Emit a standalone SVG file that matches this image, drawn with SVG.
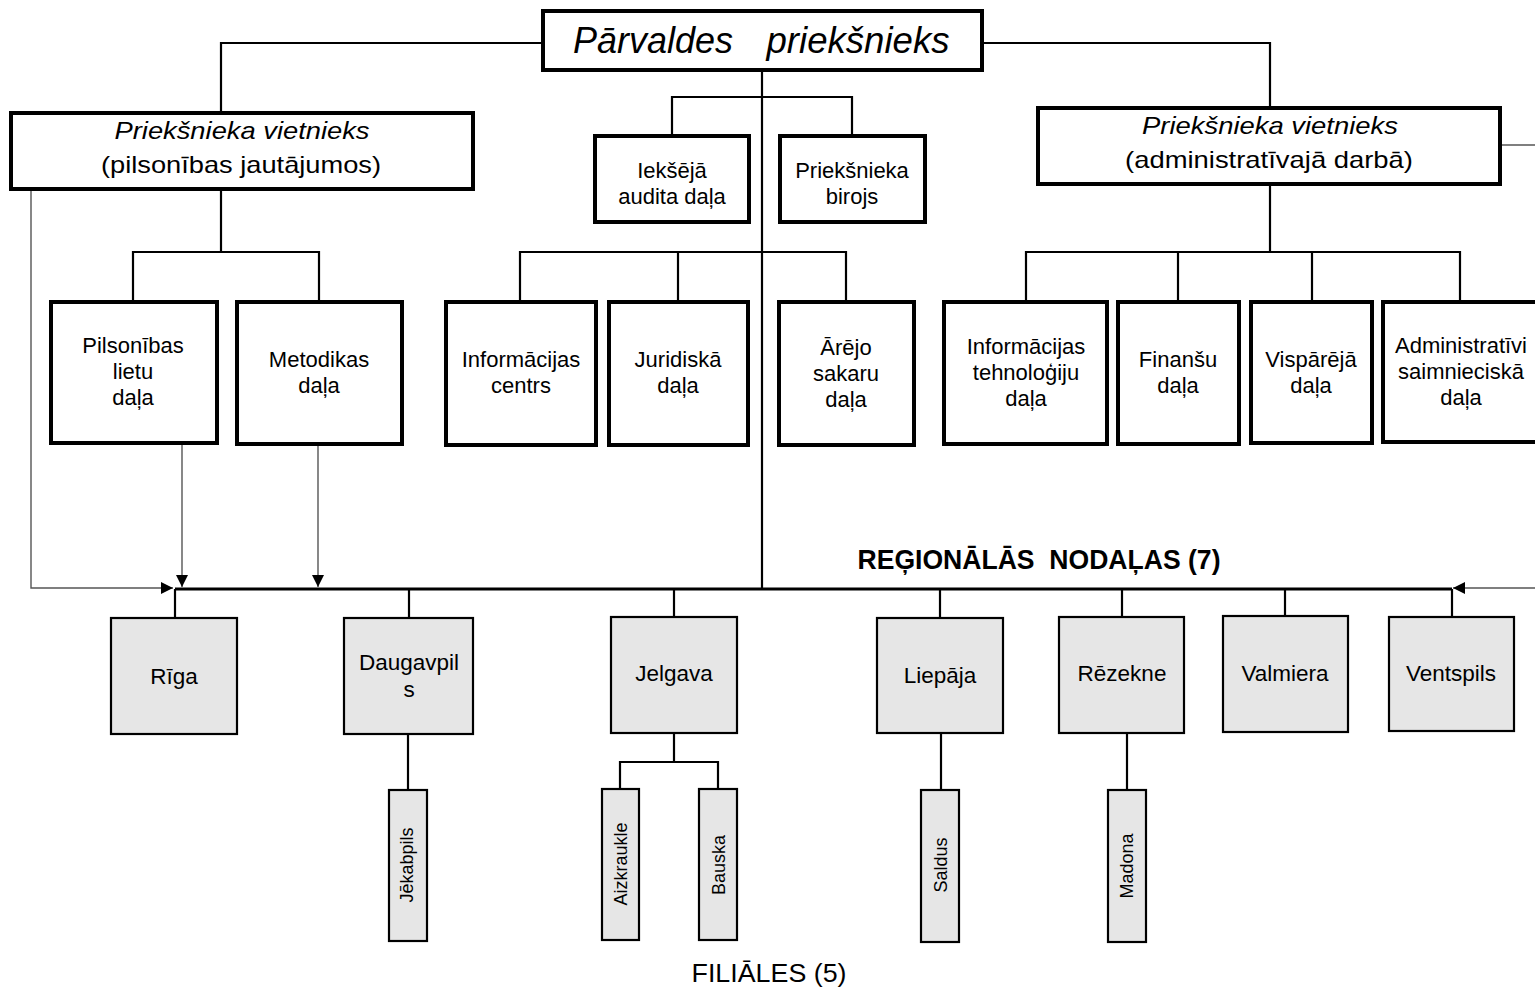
<svg xmlns="http://www.w3.org/2000/svg" width="1535" height="988" viewBox="0 0 1535 988">
<style>
.main{fill:#fff;stroke:#000;stroke-width:4}
.reg{fill:#e6e6e6;stroke:#000;stroke-width:2.2}
.ln{fill:none;stroke:#000;stroke-width:2.2}
.bus{fill:none;stroke:#000;stroke-width:2.8}
.gr{fill:none;stroke:#555;stroke-width:1.4}
text{font-family:"Liberation Sans",Arial,sans-serif;fill:#000;text-anchor:middle}
.t22{font-size:22px}
.t21{font-size:22.5px}
.it{font-style:italic}
.v{font-size:18px}
</style>
<defs>
<marker id="arb" viewBox="0 0 10 10" refX="10" refY="5" markerWidth="12" markerHeight="12" markerUnits="userSpaceOnUse" orient="auto">
<path d="M0,0 L10,5 L0,10 z" fill="#000"/>
</marker>
</defs>

<g id="connectors">
<polyline class="ln" points="543,43 221,43 221,112"/>
<polyline class="ln" points="982,43 1270,43 1270,107"/>
<line class="ln" x1="762" y1="70" x2="762" y2="589"/>
<polyline class="ln" points="672,135 672,97 852,97 852,135"/>
<line class="ln" x1="221" y1="189" x2="221" y2="252"/>
<polyline class="ln" points="133,301 133,252 319,252 319,301"/>
<polyline class="ln" points="520,301 520,252 846,252 846,301"/>
<line class="ln" x1="678" y1="252" x2="678" y2="301"/>
<line class="ln" x1="1270" y1="183" x2="1270" y2="252"/>
<polyline class="ln" points="1026,301 1026,252 1460,252 1460,301"/>
<line class="ln" x1="1178" y1="252" x2="1178" y2="301"/>
<line class="ln" x1="1312" y1="252" x2="1312" y2="301"/>
<line class="bus" x1="175" y1="589" x2="1452" y2="589"/>
<line class="ln" x1="175" y1="589" x2="175" y2="618"/>
<line class="ln" x1="409" y1="589" x2="409" y2="618"/>
<line class="ln" x1="674" y1="589" x2="674" y2="617"/>
<line class="ln" x1="940" y1="589" x2="940" y2="618"/>
<line class="ln" x1="1122" y1="589" x2="1122" y2="617"/>
<line class="ln" x1="1285" y1="589" x2="1285" y2="616"/>
<line class="ln" x1="1452" y1="589" x2="1452" y2="617"/>
<line class="ln" x1="408" y1="734" x2="408" y2="790"/>
<polyline class="ln" points="674,733 674,762 620,762 620,789"/>
<polyline class="ln" points="674,762 718,762 718,789"/>
<line class="ln" x1="941" y1="733" x2="941" y2="790"/>
<line class="ln" x1="1127" y1="733" x2="1127" y2="790"/>
<polyline class="gr" points="31,189 31,588 173,588" marker-end="url(#arb)"/>
<line class="gr" x1="182" y1="443" x2="182" y2="587" marker-end="url(#arb)"/>
<line class="gr" x1="318" y1="445" x2="318" y2="587" marker-end="url(#arb)"/>
<line class="gr" x1="1501" y1="145" x2="1540" y2="145"/>
<line class="gr" x1="1540" y1="588" x2="1453" y2="588" marker-end="url(#arb)"/>
</g>

<g id="n-parvaldes">
<rect class="main" x="543" y="11" width="439" height="59"/>
<text class="it" x="653" y="53" font-size="37" textLength="160" lengthAdjust="spacingAndGlyphs">Pārvaldes</text>
<text class="it" x="858" y="53" font-size="37" textLength="183" lengthAdjust="spacingAndGlyphs">priekšnieks</text>
</g>

<g id="n-vietn-pils">
<rect class="main" x="11" y="113" width="462" height="76"/>
<text class="it" x="242" y="139" font-size="24" textLength="255" lengthAdjust="spacingAndGlyphs">Priekšnieka vietnieks</text>
<text x="241" y="173" font-size="24" textLength="280" lengthAdjust="spacingAndGlyphs">(pilsonības jautājumos)</text>
</g>

<g id="n-vietn-adm">
<rect class="main" x="1038" y="108" width="462" height="76"/>
<text class="it" x="1270" y="134" font-size="24" textLength="256" lengthAdjust="spacingAndGlyphs">Priekšnieka vietnieks</text>
<text x="1269" y="168" font-size="24" textLength="288" lengthAdjust="spacingAndGlyphs">(administratīvajā darbā)</text>
</g>

<g id="n-audits">
<rect class="main" x="595" y="136" width="154" height="86"/>
<text class="t22" x="672" y="178">Iekšējā</text>
<text class="t22" x="672" y="204">audita daļa</text>
</g>

<g id="n-birojs">
<rect class="main" x="780" y="136" width="145" height="86"/>
<text class="t22" x="852" y="178">Priekšnieka</text>
<text class="t22" x="852" y="204">birojs</text>
</g>

<g id="n-pils-lietu">
<rect class="main" x="51" y="302" width="166" height="141"/>
<text class="t22" x="133" y="353">Pilsonības</text>
<text class="t22" x="133" y="379">lietu</text>
<text class="t22" x="133" y="405">daļa</text>
</g>

<g id="n-metodikas">
<rect class="main" x="237" y="302" width="165" height="142"/>
<text class="t22" x="319" y="367">Metodikas</text>
<text class="t22" x="319" y="393">daļa</text>
</g>

<g id="n-info-centrs">
<rect class="main" x="446" y="302" width="150" height="143"/>
<text class="t22" x="521" y="367">Informācijas</text>
<text class="t22" x="521" y="393">centrs</text>
</g>

<g id="n-juridiska">
<rect class="main" x="609" y="302" width="139" height="143"/>
<text class="t22" x="678" y="367">Juridiskā</text>
<text class="t22" x="678" y="393">daļa</text>
</g>

<g id="n-arejo">
<rect class="main" x="779" y="302" width="135" height="143"/>
<text class="t22" x="846" y="355">Ārējo</text>
<text class="t22" x="846" y="381">sakaru</text>
<text class="t22" x="846" y="407">daļa</text>
</g>

<g id="n-it">
<rect class="main" x="944" y="302" width="163" height="142"/>
<text class="t22" x="1026" y="354">Informācijas</text>
<text class="t22" x="1026" y="380">tehnoloģiju</text>
<text class="t22" x="1026" y="406">daļa</text>
</g>

<g id="n-finansu">
<rect class="main" x="1118" y="302" width="121" height="142"/>
<text class="t22" x="1178" y="367">Finanšu</text>
<text class="t22" x="1178" y="393">daļa</text>
</g>

<g id="n-visparej">
<rect class="main" x="1251" y="302" width="121" height="141"/>
<text class="t22" x="1311" y="367">Vispārējā</text>
<text class="t22" x="1311" y="393">daļa</text>
</g>

<g id="n-adm-saimn">
<rect class="main" x="1383" y="302" width="160" height="140"/>
<text class="t22" x="1461" y="353">Administratīvi</text>
<text class="t22" x="1461" y="379">saimnieciskā</text>
<text class="t22" x="1461" y="405">daļa</text>
</g>

<g id="label-regionalas">
<text x="1039" y="569" font-size="28" font-weight="bold" textLength="363" lengthAdjust="spacingAndGlyphs" xml:space="preserve">REĢIONĀLĀS  NODAĻAS (7)</text>
</g>

<g id="n-riga">
<rect class="reg" x="111" y="618" width="126" height="116"/>
<text class="t21" x="174" y="684">Rīga</text>
</g>
<g id="n-daugavpils">
<rect class="reg" x="344" y="618" width="129" height="116"/>
<text class="t21" x="409" y="670">Daugavpil</text>
<text class="t21" x="409" y="697">s</text>
</g>
<g id="n-jelgava">
<rect class="reg" x="611" y="617" width="126" height="116"/>
<text class="t21" x="674" y="681">Jelgava</text>
</g>
<g id="n-liepaja">
<rect class="reg" x="877" y="618" width="126" height="115"/>
<text class="t21" x="940" y="683">Liepāja</text>
</g>
<g id="n-rezekne">
<rect class="reg" x="1059" y="617" width="125" height="116"/>
<text class="t21" x="1122" y="681">Rēzekne</text>
</g>
<g id="n-valmiera">
<rect class="reg" x="1223" y="616" width="125" height="116"/>
<text class="t21" x="1285" y="681">Valmiera</text>
</g>
<g id="n-ventspils">
<rect class="reg" x="1389" y="617" width="125" height="114"/>
<text class="t21" x="1451" y="681">Ventspils</text>
</g>

<g id="n-jekabpils">
<rect class="reg" x="389" y="790" width="38" height="151"/>
<text class="v" transform="translate(413,865) rotate(-90)">Jēkabpils</text>
</g>
<g id="n-aizkraukle">
<rect class="reg" x="602" y="789" width="37" height="151"/>
<text class="v" transform="translate(627,864) rotate(-90)">Aizkraukle</text>
</g>
<g id="n-bauska">
<rect class="reg" x="699" y="789" width="38" height="151"/>
<text class="v" transform="translate(725,865) rotate(-90)">Bauska</text>
</g>
<g id="n-saldus">
<rect class="reg" x="921" y="790" width="38" height="152"/>
<text class="v" transform="translate(947,865) rotate(-90)">Saldus</text>
</g>
<g id="n-madona">
<rect class="reg" x="1108" y="790" width="38" height="152"/>
<text class="v" transform="translate(1133,866) rotate(-90)">Madona</text>
</g>

<g id="label-filiales">
<text x="769" y="982" font-size="25" textLength="155" lengthAdjust="spacingAndGlyphs">FILIĀLES (5)</text>
</g>
</svg>
